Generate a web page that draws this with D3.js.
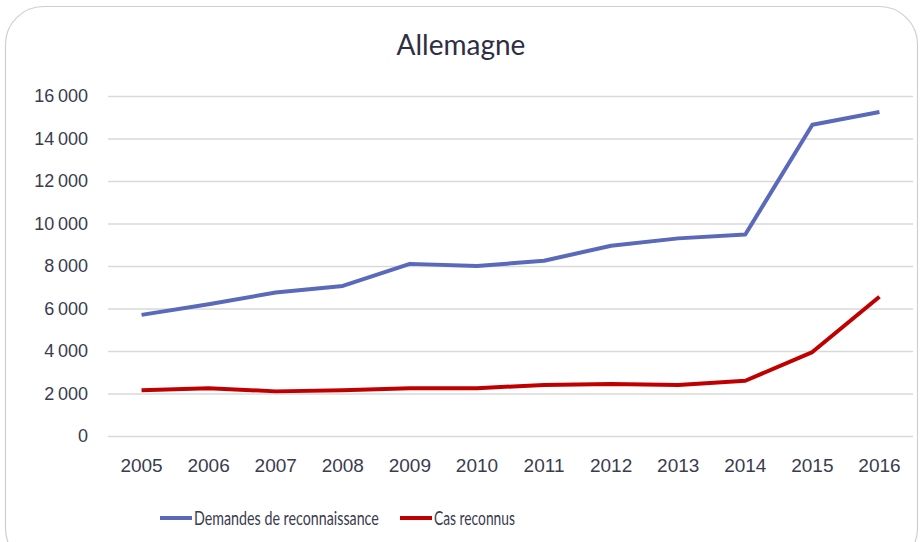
<!DOCTYPE html>
<html>
<head>
  <meta charset="UTF-8">
  <title>Allemagne</title>
  <style>
    body { margin: 0; background: #fff; }
    svg { display: block; font-family: Lato, "Open Sans", sans-serif; }
    .axis path, .axis line { display: none; }
    .grid line { stroke: #d9d9d9; stroke-width: 1.3; }
    .grid path { display: none; }
  </style>
</head>
<body>
  <div class="svg-zone"></div>
  <script src="https://cdn.jsdelivr.net/npm/d3@7"></script>
  <script>
  // données
  const years = ["2005","2006","2007","2008","2009","2010","2011","2012","2013","2014","2015","2016"];
  const demandes = [5700, 6200, 6750, 7060, 8100, 8000, 8250, 8950, 9300, 9480, 14650, 15250];
  const reconnus = [2150, 2250, 2100, 2150, 2250, 2250, 2400, 2450, 2400, 2600, 3950, 6550];
  const yTicks = [0, 2000, 4000, 6000, 8000, 10000, 12000, 14000, 16000];
  const seriesNames = ["Demandes de reconnaissance", "Cas reconnus"];
  const colors = ["#5a69b9", "#c00000"];

  const width = 922, height = 542;
  const plotLeft = 108, plotRight = 913, plotTop = 96, plotBottom = 436;

  const svg = d3.select(".svg-zone").append("svg")
    .attr("width", width)
    .attr("height", height);

  // cadre arrondi
  svg.append("rect")
    .attr("x", 5.5).attr("y", 6.5)
    .attr("width", 912).attr("height", 560)
    .attr("rx", 38)
    .attr("fill", "none")
    .attr("stroke", "#cfcfcf")
    .attr("stroke-width", 1.2);

  const x = d3.scaleBand().domain(years).range([plotLeft, plotRight]);
  const y = d3.scaleLinear().domain([0, 16000]).range([plotBottom, plotTop]);

  const fmt = v => d3.format(",")(v).replace(",", "\u2009");

  // grille
  svg.append("g")
    .attr("class", "grid")
    .attr("transform", "translate(" + plotLeft + ",0)")
    .call(d3.axisLeft(y).tickValues(yTicks).tickSize(-(plotRight - plotLeft)).tickFormat(""));

  // axe y
  svg.append("g")
    .attr("class", "axis")
    .attr("transform", "translate(" + plotLeft + ",0)")
    .call(d3.axisLeft(y).tickValues(yTicks).tickSize(0).tickPadding(20).tickFormat(fmt))
    .selectAll("text")
      .attr("font-size", 18)
      .attr("fill", "#3b3b4f");

  // axe x
  svg.append("g")
    .attr("class", "axis")
    .attr("transform", "translate(0," + plotBottom + ")")
    .call(d3.axisBottom(x).tickSize(0).tickPadding(23))
    .selectAll("text")
      .attr("font-size", 19)
      .attr("fill", "#3b3b4f");

  // titre
  svg.append("text")
    .attr("x", 461).attr("y", 55)
    .attr("text-anchor", "middle")
    .attr("font-size", 28)
    .attr("fill", "#2e2e44")
    .text("Allemagne");

  const line = d3.line()
    .x((d, i) => x(years[i]) + x.bandwidth() / 2)
    .y(d => y(d));

  [demandes, reconnus].forEach((s, k) => {
    svg.append("path")
      .datum(s)
      .attr("fill", "none")
      .attr("stroke", colors[k])
      .attr("stroke-width", 4)
      .attr("stroke-linejoin", "round")
      .attr("d", line);
  });

  // légende (texte resserré horizontalement, comme du Calibri)
  const legendX = [160, 400];
  const legendW = [185, 81];
  const leg = svg.append("g").attr("transform", "translate(0,518)");
  seriesNames.forEach((n, k) => {
    leg.append("line")
      .attr("x1", legendX[k]).attr("x2", legendX[k] + 32)
      .attr("y1", 0).attr("y2", 0)
      .attr("stroke", colors[k])
      .attr("stroke-width", 4);
    const t = leg.append("text")
      .attr("y", 7)
      .attr("font-size", 20)
      .attr("fill", "#3b3b4f")
      .text(n);
    const sx = legendW[k] / t.node().getComputedTextLength();
    t.attr("transform", "translate(" + (legendX[k] + 34) + ",0) scale(" + sx + ",1)");
  });
  </script>
</body>
</html>
